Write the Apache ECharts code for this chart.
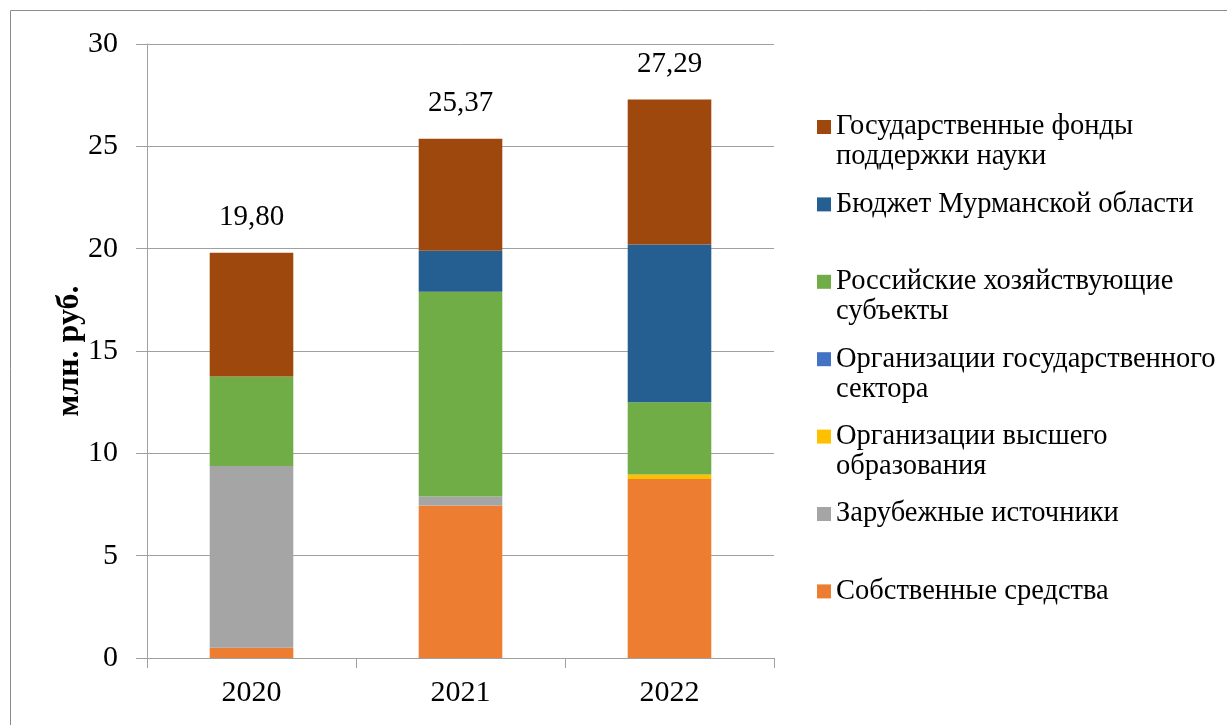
<!DOCTYPE html>
<html>
<head>
<meta charset="utf-8">
<script src="https://cdn.jsdelivr.net/npm/echarts@6/dist/echarts.min.js"></script>
<style>
html,body{margin:0;padding:0;background:#fff;}
#c{width:1227px;height:725px;}
</style>
</head>
<body>
<div id="c"></div>
<script>
// ---- data ----
const years = ['2020', '2021', '2022'];
const seriesNames = [
  'Собственные средства',
  'Зарубежные источники',
  'Организации высшего образования',
  'Организации государственного сектора',
  'Российские хозяйствующие субъекты',
  'Бюджет Мурманской области',
  'Государственные фонды поддержки науки'
];
const legendLines = {
  'Собственные средства': ['Собственные средства'],
  'Зарубежные источники': ['Зарубежные источники'],
  'Организации высшего образования': ['Организации высшего', 'образования'],
  'Организации государственного сектора': ['Организации государственного', 'сектора'],
  'Российские хозяйствующие субъекты': ['Российские хозяйствующие', 'субъекты'],
  'Бюджет Мурманской области': ['Бюджет Мурманской области'],
  'Государственные фонды поддержки науки': ['Государственные фонды', 'поддержки науки']
};
const ownFunds      = [0.50, 7.45, 8.75];
const foreign       = [8.88, 0.44, 0.00];
const higherEdu     = [0.00, 0.00, 0.21];
const stateSector   = [0.00, 0.00, 0.00];
const russianBiz    = [4.38, 10.01, 3.53];
const regionBudget  = [0.00, 2.00, 7.71];
const scienceFunds  = [6.04, 5.47, 7.09];
const totals        = [19.80, 25.37, 27.29];
const yTicks = { min: 0, max: 30, interval: 5 };

const values = [ownFunds, foreign, higherEdu, stateSector, russianBiz, regionBudget, scienceFunds];
const colors = ['#ED7D31', '#A5A5A5', '#FFC000', '#4472C4', '#70AD47', '#255E91', '#9E480E'];

const FONT = "'Liberation Serif', 'Times New Roman', serif";

const series = seriesNames.map((name, i) => ({
  name: name,
  type: 'bar',
  stack: 'total',
  barWidth: '40%',
  data: values[i],
  itemStyle: { color: colors[i] },
  label: i === seriesNames.length - 1 ? {
    show: true,
    position: 'top',
    distance: 21,
    fontFamily: FONT,
    fontSize: 29,
    color: '#000',
    formatter: p => totals[p.dataIndex].toFixed(2).replace('.', ',')
  } : { show: false }
}));

const legendOrder = seriesNames.slice().reverse();
const LH = 30;
const legends = legendOrder.map((name, i) => {
  const lines = legendLines[name];
  const twoLine = lines.length > 1;
  return {
    orient: 'vertical',
    left: 817,
    top: 112 + i * 77.4 - (twoLine ? LH : 0),
    padding: 0,
    itemWidth: 14,
    itemHeight: 14,
    selectedMode: false,
    icon: 'rect',
    data: [name],
    // leading empty line keeps the first text line level with the marker
    formatter: n => (twoLine ? '\n' : '') + legendLines[n].join('\n'),
    textStyle: {
      fontFamily: FONT,
      fontSize: 28.5,
      lineHeight: LH,
      color: '#000'
    }
  };
});

const chart = echarts.init(document.getElementById('c'), null, { renderer: 'canvas' });
chart.setOption({
  animation: false,
  backgroundColor: '#fff',
  color: colors,
  graphic: [{
    type: 'rect',
    shape: { x: 10.5, y: 10.5, width: 1400, height: 900 },
    style: { fill: 'none', stroke: '#8c8c8c', lineWidth: 1 },
    silent: true,
    z: -1
  }],
  grid: { left: 147, right: 453, top: 44, bottom: 67 },
  legend: legends,
  xAxis: {
    type: 'category',
    data: years,
    axisLine: { lineStyle: { color: '#a0a0a0', width: 1 } },
    axisTick: { show: true, length: 10, lineStyle: { color: '#a0a0a0' } },
    axisLabel: { fontFamily: FONT, fontSize: 30, color: '#000', margin: 20 }
  },
  yAxis: {
    type: 'value',
    min: yTicks.min,
    max: yTicks.max,
    interval: yTicks.interval,
    name: 'млн. руб.',
    nameLocation: 'middle',
    nameGap: 61,
    nameMoveOverlap: false,
    nameTextStyle: { fontFamily: FONT, fontSize: 32, fontWeight: 'bold', color: '#000' },
    axisLine: { show: true, lineStyle: { color: '#a0a0a0', width: 1 } },
    axisTick: { show: true, length: 11, lineStyle: { color: '#a0a0a0' } },
    axisLabel: { fontFamily: FONT, fontSize: 30, color: '#000', margin: 29 },
    splitLine: { show: true, lineStyle: { color: '#a0a0a0', width: 1 } }
  },
  series: series
});
</script>
</body>
</html>
